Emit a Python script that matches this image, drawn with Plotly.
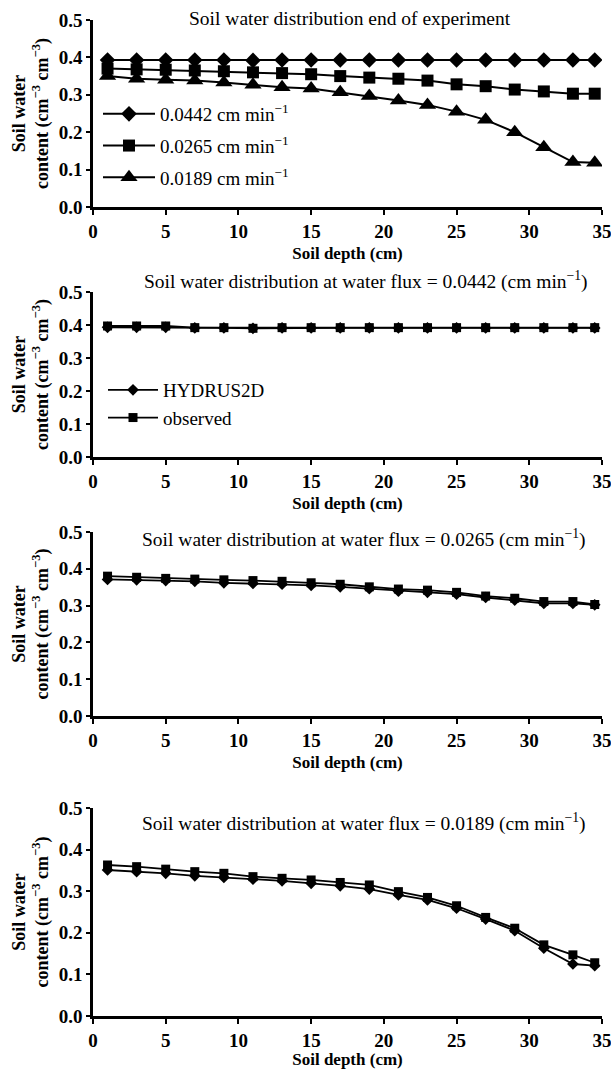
import plotly.graph_objects as go

# ---------------- data ----------------
depth = [1, 3, 5, 7, 9, 11, 13, 15, 17, 19, 21, 23, 25, 27, 29, 31, 33, 34.5]

# Panel 1: end of experiment
flux_0442 = [0.393, 0.393, 0.393, 0.393, 0.393, 0.392, 0.393, 0.393, 0.393, 0.393,
             0.393, 0.393, 0.393, 0.393, 0.393, 0.393, 0.393, 0.393]
flux_0265 = [0.370, 0.368, 0.367, 0.365, 0.363, 0.360, 0.358, 0.355, 0.350, 0.346,
             0.343, 0.338, 0.328, 0.323, 0.314, 0.309, 0.303, 0.303]
flux_0189 = [0.350, 0.343, 0.340, 0.338, 0.333, 0.327, 0.320, 0.317, 0.307, 0.297,
             0.285, 0.273, 0.255, 0.233, 0.200, 0.160, 0.120, 0.118]

# Panel 2: flux 0.0442
hyd_0442 = [0.393, 0.393, 0.393, 0.391, 0.391, 0.390, 0.391, 0.391, 0.391, 0.391,
            0.391, 0.391, 0.391, 0.391, 0.391, 0.391, 0.391, 0.391]
obs_0442 = [0.397, 0.397, 0.397, 0.392, 0.392, 0.390, 0.392, 0.392, 0.392, 0.392,
            0.392, 0.392, 0.392, 0.392, 0.392, 0.392, 0.392, 0.392]

# Panel 3: flux 0.0265
hyd_0265 = [0.371, 0.370, 0.368, 0.366, 0.362, 0.360, 0.358, 0.355, 0.351, 0.346,
            0.339, 0.336, 0.331, 0.322, 0.315, 0.306, 0.306, 0.302]
obs_0265 = [0.380, 0.377, 0.374, 0.372, 0.370, 0.368, 0.366, 0.362, 0.358, 0.351,
            0.345, 0.342, 0.336, 0.326, 0.320, 0.311, 0.311, 0.303]

# Panel 4: flux 0.0189
hyd_0189 = [0.351, 0.347, 0.343, 0.337, 0.333, 0.329, 0.325, 0.319, 0.313, 0.305,
            0.291, 0.279, 0.259, 0.233, 0.205, 0.163, 0.125, 0.121]
obs_0189 = [0.363, 0.359, 0.353, 0.347, 0.343, 0.335, 0.331, 0.327, 0.321, 0.315,
            0.299, 0.285, 0.265, 0.237, 0.211, 0.171, 0.147, 0.128]

x_ticks = [0, 5, 10, 15, 20, 25, 30, 35]
y_ticks = [0.0, 0.1, 0.2, 0.3, 0.4, 0.5]
y_ticklabels = ["0.0", "0.1", "0.2", "0.3", "0.4", "0.5"]

titles = [
    "Soil water distribution end of experiment",
    "Soil water distribution at water flux = 0.0442 (cm min<sup>\u22121</sup>)",
    "Soil water distribution at water flux = 0.0265 (cm min<sup>\u22121</sup>)",
    "Soil water distribution at water flux = 0.0189 (cm min<sup>\u22121</sup>)",
]
x_title = "Soil depth (cm)"
y_title = "Soil water<br>content (cm<sup>\u22123</sup> cm<sup>\u22123</sup>)"

# ---------------- layout geometry (pixels) ----------------
W, H = 611, 1069
x_left, x_right = 93, 602
panels_px = [(20, 207), (292, 457), (532, 716), (808, 1016)]  # (top, bottom)
title_px = [(350, 18), (366, 280), (364, 538), (364, 822)]

FONT = "Liberation Serif"
BLACK = "#000000"

fig = go.Figure()

def yd(top, bottom):
    return [1 - bottom / H, 1 - top / H]

# Panel 1
fig.add_trace(go.Scatter(x=depth, y=flux_0442, mode="lines+markers",
                         name="0.0442 cm min<sup>\u22121</sup>", legend="legend",
                         line=dict(color=BLACK, width=2),
                         marker=dict(symbol="diamond", size=12, color=BLACK),
                         xaxis="x", yaxis="y", legendgroup="a"))
fig.add_trace(go.Scatter(x=depth, y=flux_0265, mode="lines+markers",
                         name="0.0265 cm min<sup>\u22121</sup>", legend="legend",
                         line=dict(color=BLACK, width=2),
                         marker=dict(symbol="square", size=12, color=BLACK),
                         xaxis="x", yaxis="y", legendgroup="b"))
fig.add_trace(go.Scatter(x=depth, y=flux_0189, mode="lines+markers",
                         name="0.0189 cm min<sup>\u22121</sup>", legend="legend",
                         line=dict(color=BLACK, width=2),
                         marker=dict(symbol="triangle-up", size=15, color=BLACK),
                         xaxis="x", yaxis="y", legendgroup="c"))

# Panels 2-4
pairs = [(hyd_0442, obs_0442), (hyd_0265, obs_0265), (hyd_0189, obs_0189)]
for i, (hyd, obs) in enumerate(pairs):
    ax = str(i + 2)
    fig.add_trace(go.Scatter(x=depth, y=hyd, mode="lines+markers", name="HYDRUS2D",
                             legend="legend2", showlegend=(i == 0), legendgroup="h",
                             line=dict(color=BLACK, width=1.8),
                             marker=dict(symbol="diamond", size=9, color=BLACK),
                             xaxis="x" + ax, yaxis="y" + ax))
    fig.add_trace(go.Scatter(x=depth, y=obs, mode="lines+markers", name="observed",
                             legend="legend2", showlegend=(i == 0), legendgroup="o",
                             line=dict(color=BLACK, width=1.8),
                             marker=dict(symbol="square", size=9, color=BLACK),
                             xaxis="x" + ax, yaxis="y" + ax))

layout = dict(
    width=W, height=H,
    margin=dict(l=0, r=0, t=0, b=0, autoexpand=False),
    paper_bgcolor="white", plot_bgcolor="white",
    font=dict(family=FONT, color=BLACK, size=18),
    showlegend=True,
    legend=dict(x=98 / W, y=1 - 95 / H, xanchor="left", yanchor="top",
                bgcolor="rgba(0,0,0,0)", font=dict(family=FONT, size=19, color=BLACK),
                itemwidth=52, tracegroupgap=4),
    legend2=dict(x=103 / W, y=1 - 371 / H, xanchor="left", yanchor="top",
                 bgcolor="rgba(0,0,0,0)", font=dict(family=FONT, size=19, color=BLACK),
                 itemwidth=50, tracegroupgap=0),
)

annotations = []
for i, (top, bottom) in enumerate(panels_px):
    sfx = "" if i == 0 else str(i + 1)
    layout["xaxis" + sfx] = dict(
        domain=[x_left / W, x_right / W], range=[0, 35],
        anchor="y" + sfx, tickvals=x_ticks, automargin=False,
        ticklabeloverflow="allow",
        ticks="outside", ticklen=5, tickwidth=2, tickcolor=BLACK,
        showline=True, linewidth=2.5, linecolor=BLACK,
        showgrid=False, zeroline=False,
        tickfont=dict(family=FONT, size=19, color=BLACK, weight="bold"),
        title=dict(text=x_title, standoff=7,
                   font=dict(family=FONT, size=17, color=BLACK, weight="bold")),
    )
    layout["yaxis" + sfx] = dict(
        domain=yd(top, bottom), range=[0, 0.5],
        anchor="x" + sfx, tickvals=y_ticks, ticktext=y_ticklabels, automargin=False,
        ticks="outside", ticklen=4, tickwidth=2, tickcolor=BLACK,
        showline=True, linewidth=2.5, linecolor=BLACK,
        showgrid=False, zeroline=False,
        tickfont=dict(family=FONT, size=19, color=BLACK, weight="bold"),
        title=dict(text=y_title, standoff=6,
                   font=dict(family=FONT, size=18, color=BLACK, weight="bold")),
    )
    tx, ty = title_px[i]
    annotations.append(dict(text=titles[i], x=tx / W, y=1 - ty / H,
                            xref="paper", yref="paper", xanchor="center",
                            yanchor="middle", showarrow=False,
                            font=dict(family=FONT, size=19.5, color=BLACK)))

layout["annotations"] = annotations
fig.update_layout(**layout)

fig.write_html("out.html", config={"displayModeBar": False},
               post_script="document.body.style.margin='0';document.body.style.overflow='hidden';")
